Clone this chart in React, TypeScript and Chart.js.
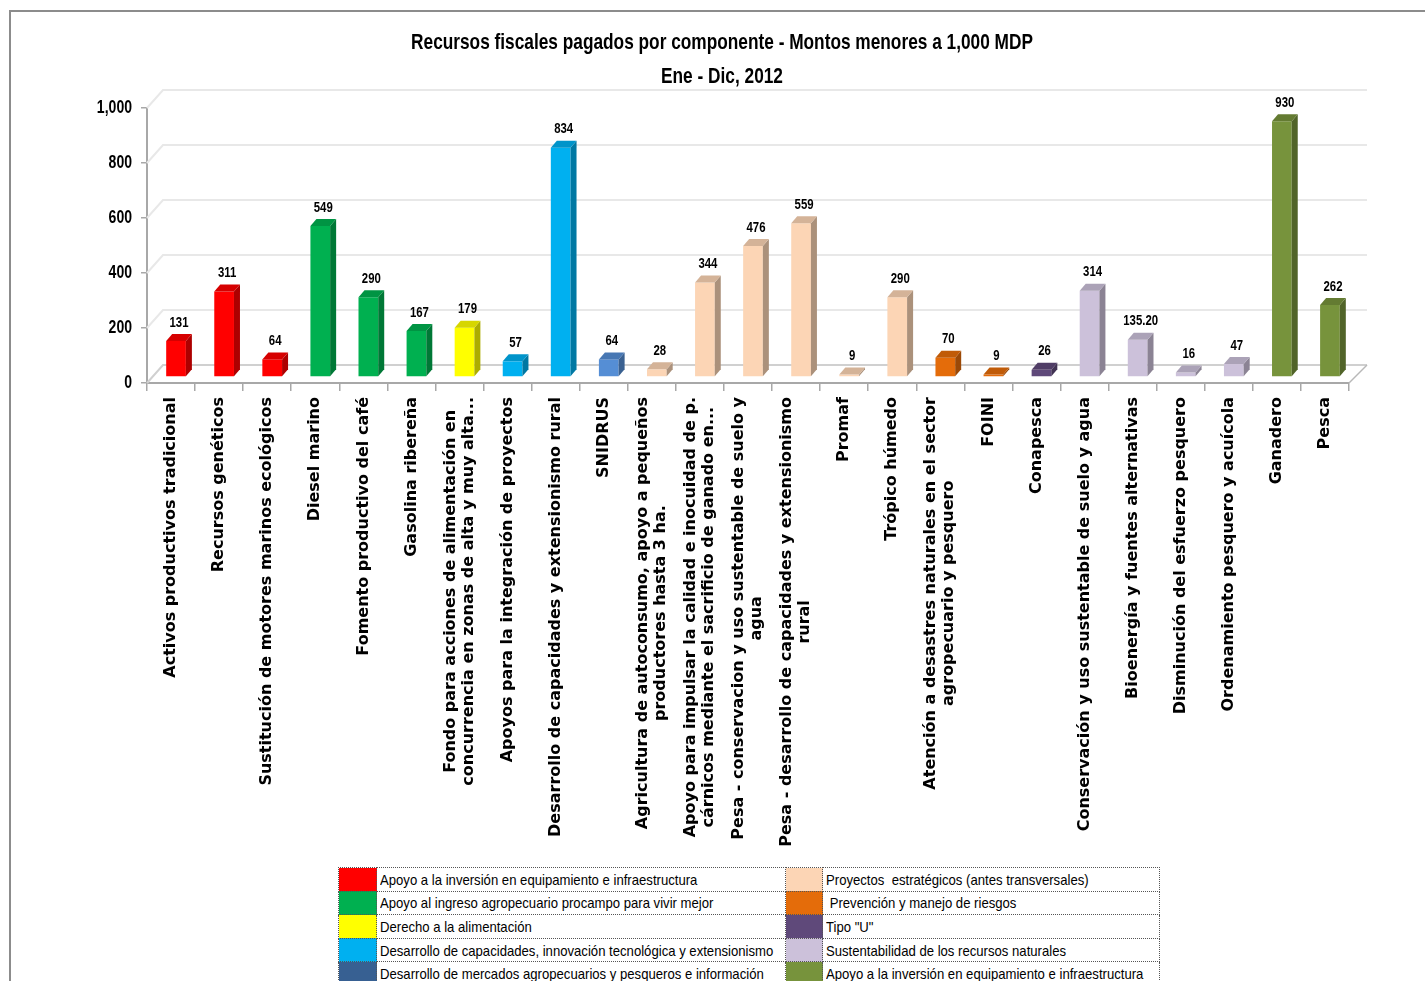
import { useEffect, useRef } from "react";
import { Chart, registerables } from "chart.js";

Chart.register(...registerables);

const SANS = '"Liberation Sans", Arial, sans-serif';
const LABEL_FONT = '"DejaVu Sans", Verdana, sans-serif';

const titleLines = [
  "Recursos fiscales pagados por componente - Montos menores a 1,000 MDP",
  "Ene - Dic, 2012",
];

const categories: (string | string[])[] = [
  "Activos productivos tradicional",
  "Recursos genéticos",
  "Sustitución de motores marinos ecológicos",
  "Diesel marino",
  "Fomento productivo del café",
  "Gasolina ribereña",
  ["Fondo para acciones de alimentación en", "concurrencia en zonas de alta y muy alta..."],
  "Apoyos para la integración de proyectos",
  "Desarrollo de capacidades y extensionismo rural",
  "SNIDRUS",
  ["Agricultura de autoconsumo, apoyo a pequeños", "productores hasta 3 ha."],
  ["Apoyo para impulsar la calidad e inocuidad de p.", "cárnicos mediante el sacrificio de ganado en..."],
  ["Pesa - conservacion y uso sustentable de suelo y", "agua"],
  ["Pesa - desarrollo de capacidades y extensionismo", "rural"],
  "Promaf",
  "Trópico húmedo",
  ["Atención a desastres naturales en el sector", "agropecuario y pesquero"],
  "FOINI",
  "Conapesca",
  "Conservación y uso sustentable de suelo y agua",
  "Bioenergía y fuentes alternativas",
  "Disminución del esfuerzo pesquero",
  "Ordenamiento pesquero y acuícola",
  "Ganadero",
  "Pesca",
];

const values = [131, 311, 64, 549, 290, 167, 179, 57, 834, 64, 28, 344, 476, 559, 9, 290, 70, 9, 26, 314, 135.2, 16, 47, 930, 262];

const valueLabels = ["131", "311", "64", "549", "290", "167", "179", "57", "834", "64", "28", "344", "476", "559", "9", "290", "70", "9", "26", "314", "135.20", "16", "47", "930", "262"];

const barColors = [
  "#FF0000", "#FF0000", "#FF0000",
  "#00B050", "#00B050", "#00B050",
  "#FFFF00",
  "#00B0F0", "#00B0F0",
  "#558ED5",
  "#FCD5B5", "#FCD5B5", "#FCD5B5", "#FCD5B5", "#FCD5B5", "#FCD5B5",
  "#E46C0A", "#E46C0A",
  "#5F497A",
  "#CCC1DA", "#CCC1DA", "#CCC1DA", "#CCC1DA",
  "#77933C", "#77933C",
];

const yTickValues = [0, 200, 400, 600, 800, 1000];
const yTickLabels = ["0", "200", "400", "600", "800", "1,000"];

const legendLeftLabels = [
  "Apoyo a la inversión en equipamiento e infraestructura",
  "Apoyo al ingreso agropecuario procampo para vivir mejor",
  "Derecho a la alimentación",
  "Desarrollo de capacidades, innovación tecnológica y extensionismo",
  "Desarrollo de mercados agropecuarios y pesqueros e información",
];
const legendLeftColors = ["#FF0000", "#00B050", "#FFFF00", "#00B0F0", "#376092"];
const legendRightLabels = [
  "Proyectos  estratégicos (antes transversales)",
  " Prevención y manejo de riesgos",
  "Tipo \"U\"",
  "Sustentabilidad de los recursos naturales",
  "Apoyo a la inversión en equipamiento e infraestructura",
];
const legendRightColors = ["#FCD5B5", "#E46C0A", "#5F497A", "#CCC1DA", "#77933C"];

const BAR_DX = 5;
const BAR_DY = -6;
const DEPTH_X = 6;
const DEPTH_Y = -7;
const WALL_DX = 16;
const WALL_DY = -18;
const LABEL_GAP = 14;
const LABEL_LINE = 18;
const TITLE_X = 722;
const TITLE_Y = [43, 77];

function shade(hex: string, f: number): string {
  const n = parseInt(hex.slice(1), 16);
  const r = Math.round(((n >> 16) & 255) * f);
  const g = Math.round(((n >> 8) & 255) * f);
  const b = Math.round((n & 255) * f);
  return `rgb(${r},${g},${b})`;
}

function narrowText(ctx: any, text: string, x: number, y: number, align: string, sx: number) {
  ctx.save();
  ctx.translate(x, y);
  ctx.scale(sx, 1);
  ctx.textAlign = align;
  ctx.fillText(text, 0, 0);
  ctx.restore();
}

const threeDPlugin = {
  id: "threeD",
  beforeDatasetsDraw(chart: any) {
    const { ctx, chartArea, scales } = chart;
    const ys = scales.y;
    ctx.save();
    ctx.lineWidth = 2;
    yTickValues.forEach((v) => {
      const py = ys.getPixelForValue(v);
      ctx.strokeStyle = v === 0 ? "#d0d0d0" : "#e8e8e8";
      ctx.beginPath();
      ctx.moveTo(chartArea.left, py);
      ctx.lineTo(chartArea.left + WALL_DX, py + WALL_DY);
      ctx.lineTo(chartArea.right + WALL_DX + 2, py + WALL_DY);
      ctx.stroke();
    });
    ctx.strokeStyle = "#b8b8b8";
    ctx.lineWidth = 1.5;
    ctx.beginPath();
    ctx.moveTo(chartArea.right, chartArea.bottom);
    ctx.lineTo(chartArea.right + WALL_DX + 2, chartArea.bottom + WALL_DY);
    ctx.stroke();
    ctx.restore();
    ctx.save();
    ctx.translate(BAR_DX, BAR_DY);
  },
  afterDatasetsDraw(chart: any) {
    const { ctx } = chart;
    const meta = chart.getDatasetMeta(0);
    meta.data.forEach((bar: any, i: number) => {
      const { x, y, base, width } = bar.getProps(["x", "y", "base", "width"], true);
      const l = x - width / 2;
      const r = x + width / 2;
      const c = barColors[i];
      ctx.fillStyle = shade(c, 0.68);
      ctx.beginPath();
      ctx.moveTo(r, base);
      ctx.lineTo(r + DEPTH_X, base + DEPTH_Y);
      ctx.lineTo(r + DEPTH_X, y + DEPTH_Y);
      ctx.lineTo(r, y);
      ctx.closePath();
      ctx.fill();
      ctx.fillStyle = shade(c, 0.84);
      ctx.beginPath();
      ctx.moveTo(l, y);
      ctx.lineTo(l + DEPTH_X, y + DEPTH_Y);
      ctx.lineTo(r + DEPTH_X, y + DEPTH_Y);
      ctx.lineTo(r, y);
      ctx.closePath();
      ctx.fill();
    });
    ctx.restore();

    ctx.save();
    ctx.font = `bold 15px ${SANS}`;
    ctx.fillStyle = "#000";
    ctx.textBaseline = "bottom";
    meta.data.forEach((bar: any, i: number) => {
      narrowText(ctx, valueLabels[i], bar.x + BAR_DX + DEPTH_X / 2, bar.y + BAR_DY + DEPTH_Y - 4, "center", 0.76);
    });
    ctx.restore();
  },
  afterDraw(chart: any) {
    const { ctx, chartArea } = chart;
    const xs = chart.scales.x;
    const ys = chart.scales.y;
    ctx.save();
    ctx.fillStyle = "#000";

    // title
    ctx.font = `bold 22px ${SANS}`;
    ctx.textBaseline = "middle";
    titleLines.forEach((t, i) => narrowText(ctx, t, TITLE_X, TITLE_Y[i], "center", 0.785));

    // y tick labels
    ctx.font = `bold 18px ${SANS}`;
    yTickValues.forEach((v, i) => {
      narrowText(ctx, yTickLabels[i], chartArea.left - 15, ys.getPixelForValue(v), "right", 0.78);
    });

    // category labels
    ctx.font = `bold 16px ${LABEL_FONT}`;
    ctx.textAlign = "center";
    ctx.textBaseline = "middle";
    categories.forEach((lab, i) => {
      const lines = Array.isArray(lab) ? lab : [lab];
      const cx = xs.getPixelForTick(i);
      const w = Math.max(...lines.map((s) => ctx.measureText(s).width));
      ctx.save();
      ctx.translate(cx, chartArea.bottom + LABEL_GAP);
      ctx.rotate(-Math.PI / 2);
      lines.forEach((s, j) => {
        ctx.fillText(s, -w / 2, (j - (lines.length - 1) / 2) * LABEL_LINE);
      });
      ctx.restore();
    });
    ctx.restore();
  },
};

function BarChart() {
  const ref = useRef<HTMLCanvasElement>(null);
  useEffect(() => {
    if (!ref.current) return;
    const chart = new Chart(ref.current, {
      type: "bar",
      data: {
        labels: categories.map((c) => (Array.isArray(c) ? c.join(" ") : c)),
        datasets: [
          {
            data: values,
            backgroundColor: barColors,
            borderWidth: 0,
            barPercentage: 0.41,
            categoryPercentage: 1,
          },
        ],
      },
      options: {
        animation: false,
        responsive: false,
        maintainAspectRatio: false,
        layout: { padding: { left: 0, right: 76, top: 108, bottom: 0 } },
        plugins: {
          legend: { display: false },
          tooltip: { enabled: false },
          title: { display: false },
        },
        scales: {
          x: {
            afterFit: (s: any) => {
              s.height = 477;
            },
            ticks: { display: false },
            grid: {
              drawOnChartArea: false,
              drawTicks: true,
              tickLength: 8,
              color: "#a8a8a8",
              lineWidth: 1.5,
              offset: true,
            },
            border: { color: "#a8a8a8", width: 2 },
          },
          y: {
            min: 0,
            max: 1000,
            afterFit: (s: any) => {
              s.width = 147;
            },
            afterBuildTicks: (s: any) => {
              s.ticks = yTickValues.map((v) => ({ value: v }));
            },
            ticks: { display: false },
            grid: {
              drawOnChartArea: false,
              drawTicks: true,
              tickLength: 6,
              color: "#a8a8a8",
              lineWidth: 1.5,
            },
            border: { color: "#a8a8a8", width: 2 },
          },
        },
      },
      plugins: [threeDPlugin],
    } as any);
    return () => chart.destroy();
  }, []);
  return (
    <canvas
      ref={ref}
      width={1425}
      height={860}
      style={{ position: "absolute", left: 0, top: 0, width: 1425, height: 860, display: "block" }}
    />
  );
}

function Legend() {
  const cell: any = { border: "1px dotted #555", padding: 0, height: 22.6 };
  const txt: any = { ...cell, paddingLeft: 3, whiteSpace: "pre", overflow: "hidden" };
  const span: any = { display: "inline-block", transform: "scaleX(0.875)", transformOrigin: "left center" };
  return (
    <table
      style={{
        position: "absolute",
        left: 338,
        top: 867,
        borderCollapse: "collapse",
        tableLayout: "fixed",
        width: 821,
        fontFamily: SANS,
        fontSize: 15,
        color: "#000",
      }}
    >
      <colgroup>
        <col style={{ width: 38 }} />
        <col style={{ width: 409 }} />
        <col style={{ width: 37 }} />
        <col style={{ width: 337 }} />
      </colgroup>
      <tbody>
        {legendLeftLabels.map((l, i) => (
          <tr key={i}>
            <td style={{ ...cell, background: legendLeftColors[i] }} />
            <td style={txt}>
              <span style={span}>{l}</span>
            </td>
            <td style={{ ...cell, background: legendRightColors[i] }} />
            <td style={txt}>
              <span style={span}>{legendRightLabels[i]}</span>
            </td>
          </tr>
        ))}
      </tbody>
    </table>
  );
}

export default function App() {
  return (
    <div
      style={{
        position: "fixed",
        left: 0,
        top: 0,
        width: 1425,
        height: 981,
        overflow: "hidden",
        background: "#fff",
      }}
    >
      <div
        style={{
          position: "absolute",
          left: 9,
          top: 10,
          width: 1500,
          height: 1100,
          border: "2px solid #8c8c8c",
        }}
      />
      <BarChart />
      <Legend />
    </div>
  );
}
